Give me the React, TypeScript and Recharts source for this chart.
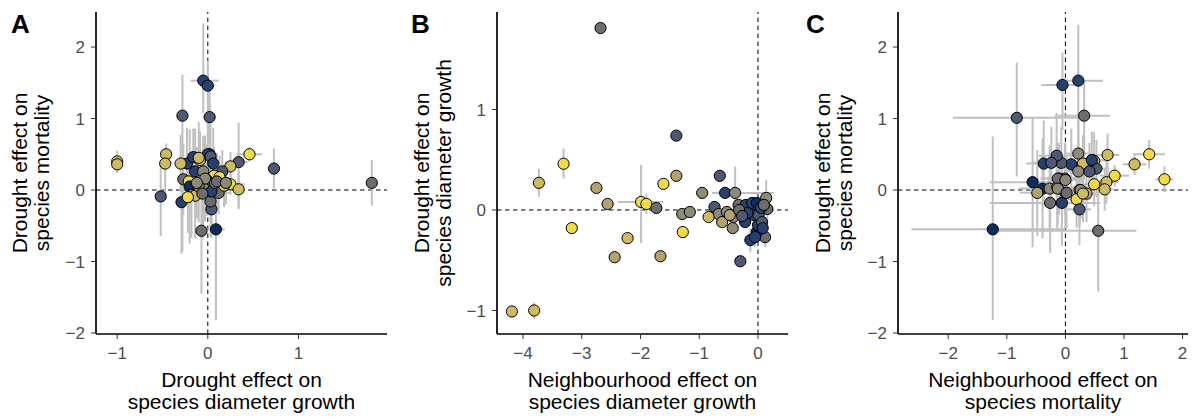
import React from 'react'
import { ScatterChart, Scatter, XAxis, YAxis, ErrorBar, ReferenceLine } from 'recharts'

type Err = number | [number, number]
type Row = [number, number, Err, Err, number]

// colour groups (cividis-like), dark navy -> yellow
const groupColours = ['#0f2c5c', '#283f6f', '#4e5873', '#6d6d6f', '#8e8a78', '#b0a36e', '#cdbb64', '#f0dc4a']

// each row: x, y, x error (+/- or [lo, hi]), y error, colour group
const droughtGrowthVsMortality: Row[] = [
  [-1.0, 0.4, 0.04, 0.15, 6],
  [-1.0, 0.36, 0.06, 0.12, 6],
  [-0.46, 0.5, 0.03, 0.15, 6],
  [-0.47, 0.37, 0.05, [0.5, 0.2], 6],
  [-0.52, -0.09, 0.03, [0.55, 0.5], 2],
  [-0.29, -0.17, 0.04, [0.72, 0.3], 1],
  [-0.28, 1.04, 0.05, [1.9, 0.57], 2],
  [-0.05, 1.53, [0.14, 0.17], [0.45, 0.8], 1],
  [0.0, 1.46, 0.08, [0.6, 0.35], 1],
  [0.02, 1.02, 0.06, [0.55, 0.45], 2],
  [0.73, 0.3, 0.04, 0.28, 2],
  [1.81, 0.1, 0.04, 0.32, 3],
  [0.46, 0.5, 0.14, 0.1, 7],
  [-0.07, -0.57, 0.05, [0.88, 0.55], 3],
  [0.09, -0.55, 0.1, [1.27, 0.4], 0],
  [0.34, 0.39, 0.1, [0.63, 0.55], 2],
  [0.25, 0.33, 0.05, 0.2, 6],
  [0.25, 0.08, 0.16, 0.15, 7],
  [0.34, 0.01, 0.06, [0.28, 0.25], 6],
  [0.16, 0.26, 0.08, 0.3, 2],
  [0.12, -0.04, 0.12, 0.3, 3],
  [0.04, -0.27, 0.06, 0.4, 2],
  [0.03, -0.16, 0.08, 0.5, 3],
  [0.02, 0.5, 0.05, 0.7, 3],
  [0.0, 0.5, 0.05, 0.5, 1],
  [0.03, 0.47, 0.05, 0.5, 2],
  [-0.085, 0.42, 0.05, 0.4, 6],
  [-0.23, 0.37, 0.05, 0.5, 1],
  [-0.3, 0.37, 0.05, 0.4, 6],
  [-0.16, 0.46, 0.05, 0.4, 1],
  [-0.1, 0.45, 0.05, 0.5, 6],
  [0.06, 0.37, 0.05, 0.5, 1],
  [-0.14, 0.26, 0.05, 0.6, 1],
  [-0.05, 0.26, 0.05, 0.5, 4],
  [0.07, 0.2, 0.05, 0.4, 7],
  [-0.01, 0.14, 0.05, 0.5, 2],
  [-0.27, 0.15, 0.05, 0.5, 3],
  [-0.21, 0.12, 0.05, 0.4, 7],
  [-0.2, 0.05, 0.05, 0.8, 0],
  [-0.18, -0.07, 0.05, 0.6, 4],
  [-0.05, 0.03, 0.05, 0.7, 4],
  [-0.03, 0.16, 0.05, 0.6, 4],
  [0.04, -0.02, 0.05, 0.5, 1],
  [0.08, 0.1, 0.05, 0.4, 4],
  [0.13, 0.18, 0.05, 0.3, 7],
  [0.18, 0.06, 0.12, 0.3, 6],
  [-0.14, -0.08, 0.05, 0.6, 6],
  [-0.22, -0.1, 0.05, 0.5, 7],
  [-0.1, 0.05, 0.05, 0.5, 4],
  [0.1, 0.12, 0.05, 0.4, 3],
  [0.2, 0.1, 0.05, 0.3, 4],
  [-0.06, -0.05, 0.05, 0.5, 3],
  [-0.12, 0.1, 0.05, 0.5, 4],
]

const neighbourVsDroughtGrowth: Row[] = [
  [-2.68, 1.81, 0.03, 0.03, 3],
  [-1.39, 0.74, 0.03, 0.04, 2],
  [-3.31, 0.46, 0.03, 0.15, 7],
  [-3.73, 0.27, 0.1, 0.14, 6],
  [-2.75, 0.22, 0.03, 0.03, 5],
  [-2.56, 0.06, 0.1, 0.03, 5],
  [-3.17, -0.18, 0.03, 0.03, 7],
  [-2.22, -0.28, 0.03, 0.03, 6],
  [-2.44, -0.47, 0.03, 0.03, 5],
  [-1.66, -0.46, 0.03, 0.03, 5],
  [-1.99, 0.08, [0.39, 0.38], [0.41, 0.37], 7],
  [-1.9, 0.06, 0.1, 0.1, 7],
  [-1.73, 0.02, 0.04, 0.04, 3],
  [-1.61, 0.26, 0.03, 0.03, 7],
  [-1.39, 0.34, 0.03, 0.03, 5],
  [-1.29, -0.04, 0.03, 0.03, 4],
  [-1.16, -0.02, 0.03, 0.03, 4],
  [-1.28, -0.22, 0.03, 0.03, 7],
  [-0.95, 0.17, 0.03, 0.03, 4],
  [-0.65, 0.34, 0.03, 0.03, 2],
  [-0.56, 0.17, 0.03, 0.03, 1],
  [-0.39, 0.17, [0.39, 0.66], [0.27, 0.26], 4],
  [-0.74, 0.03, 0.03, 0.03, 2],
  [-0.67, -0.04, 0.03, 0.03, 4],
  [-0.84, -0.07, 0.05, 0.05, 6],
  [-0.61, -0.12, 0.03, 0.03, 5],
  [-0.53, -0.02, 0.03, 0.03, 4],
  [-0.42, -0.07, 0.03, 0.03, 4],
  [-0.43, -0.18, 0.03, 0.03, 4],
  [-0.48, -0.05, 0.03, 0.03, 5],
  [-0.33, 0.05, 0.03, 0.03, 3],
  [-0.21, 0.05, 0.03, 0.05, 1],
  [-0.1, 0.07, 0.03, 0.05, 1],
  [-0.02, 0.07, 0.03, 0.05, 0],
  [0.14, 0.12, 0.05, [0.15, 0.18], 4],
  [0.16, 0.01, 0.05, 0.1, 3],
  [-0.13, -0.3, 0.03, 0.12, 1],
  [0.12, -0.27, 0.03, 0.1, 3],
  [-0.02, -0.22, 0.03, 0.08, 0],
  [0.0, -0.15, 0.03, 0.08, 1],
  [-0.3, -0.51, 0.03, 0.03, 2],
  [-0.22, -0.12, 0.03, 0.05, 1],
  [-0.07, -0.05, 0.03, 0.05, 1],
  [0.01, -0.05, 0.03, 0.05, 2],
  [0.07, -0.12, 0.03, 0.05, 2],
  [-0.18, -0.03, 0.03, 0.05, 1],
  [-0.32, 0.0, 0.03, 0.05, 3],
  [-0.27, -0.06, 0.03, 0.05, 2],
  [0.05, 0.02, 0.03, 0.05, 1],
  [0.08, -0.18, 0.03, 0.05, 1],
  [-0.05, -0.27, 0.03, 0.1, 1],
  [0.1, 0.05, 0.03, 0.05, 3],
  [-4.19, -1.01, 0.03, 0.03, 6],
  [-3.81, -1.0, 0.05, 0.08, 6],
]

const neighbourVsDroughtMortality: Row[] = [
  [-0.05, 1.47, [0.36, 0.32], [0.63, 0.45], 1],
  [0.22, 1.53, [0.3, 0.42], [1.34, 0.78], 1],
  [-0.83, 1.01, [1.09, 1.1], [0.82, 0.77], 2],
  [0.32, 1.04, [0.5, 0.44], [0.9, 0.5], 3],
  [-1.24, -0.55, [1.39, 1.23], [1.27, 1.3], 0],
  [0.56, -0.57, [1.74, 0.65], [0.85, 0.62], 3],
  [1.69, 0.15, 0.15, 0.18, 7],
  [1.43, 0.5, 0.27, 0.2, 7],
  [1.18, 0.36, 0.2, 0.15, 6],
  [0.84, 0.2, 0.25, 0.15, 7],
  [0.7, 0.11, 0.2, 0.3, 6],
  [0.49, 0.08, 0.2, 0.3, 7],
  [0.67, 0.01, 0.15, 0.3, 6],
  [0.72, 0.49, 0.2, 0.3, 6],
  [0.49, 0.41, 0.2, 0.4, 6],
  [0.3, 0.37, 0.2, 0.4, 6],
  [0.22, 0.51, 0.2, 0.5, 4],
  [0.53, 0.3, 0.2, 0.4, 2],
  [0.1, 0.36, 0.2, 0.5, 1],
  [-0.07, 0.38, 0.3, 0.5, 2],
  [-0.15, 0.48, 0.3, 0.6, 2],
  [-0.37, 0.37, 0.3, 0.6, 1],
  [-0.24, 0.38, 0.3, 0.5, 2],
  [-0.56, 0.11, [0.73, 0.5], [0.91, 0.91], 0],
  [-0.39, 0.02, 0.4, 0.7, 0],
  [-0.48, -0.04, 0.3, 0.6, 5],
  [-0.26, -0.18, [1.03, 0.85], 0.7, 3],
  [-0.06, -0.18, 0.3, 0.6, 1],
  [-0.27, 0.02, 0.3, 0.6, 4],
  [-0.14, 0.04, 0.3, 0.6, 4],
  [0.0, -0.04, 0.3, 0.5, 4],
  [-0.01, 0.16, 0.3, 0.5, 4],
  [-0.11, 0.16, 0.3, 0.5, 2],
  [0.24, 0.0, 0.2, 0.5, 6],
  [0.36, -0.05, 0.2, 0.4, 5],
  [0.19, -0.13, 0.2, 0.4, 7],
  [0.24, -0.27, 0.2, 0.5, 2],
  [0.22, 0.26, 0.2, 0.4, 4],
  [0.41, 0.26, 0.2, 0.4, 2],
  [-0.13, 0.16, 0.3, 0.5, 3],
  [0.0, 0.14, 0.3, 0.5, 4],
  [-0.13, 0.02, 0.3, 0.5, 4],
  [0.02, -0.04, 0.3, 0.5, 3],
  [0.26, 0.0, 0.2, 0.4, 4],
  [0.3, -0.05, 0.2, 0.4, 6],
  [0.45, 0.42, 0.2, 0.4, 1],
]

const ticksA_x = [-1, 0, 1]
const ticksB_x = [-4, -3, -2, -1, 0]
const ticksC_x = [-2, -1, 0, 1, 2]
const ticksMortality = [-2, -1, 0, 1, 2]
const ticksGrowth = [-1, 0, 1]

const FONT = '"Liberation Sans", Arial, Helvetica, sans-serif'

const toPoints = (rows: Row[]) => rows.map(([x, y, ex, ey, g]) => ({ x, y, ex, ey, g }))
const fmt = (v: number) => (v < 0 ? `\u2212${Math.abs(v)}` : `${v}`)

const Dot = (p: any) => (
  <circle cx={p.cx} cy={p.cy} r={5.6} fill={groupColours[p.payload.g]} stroke="#000" strokeWidth={1} />
)

type PanelProps = {
  rows: Row[]
  letter: string
  left: number
  plotLeft: number
  plotRight: number
  xDomain: [number, number]
  yDomain: [number, number]
  xTicks: number[]
  yTicks: number[]
  xTitle: string[]
  yTitle: string[]
  yTitleX: number
}

function Panel(p: PanelProps) {
  const data = toPoints(p.rows)
  const top = 12
  const bottom = 334
  const yAxisW = 40
  const cx = (p.plotLeft + p.plotRight) / 2
  const cy = (top + bottom) / 2
  return (
    <div style={{ position: 'absolute', left: p.left, top: 0, width: 400, height: 419 }}>
      <ScatterChart
        width={400}
        height={419}
        margin={{ top, right: 400 - p.plotRight, bottom: 0, left: p.plotLeft - yAxisW }}
      >
        <XAxis
          type="number"
          dataKey="x"
          domain={p.xDomain}
          ticks={p.xTicks}
          allowDataOverflow
          height={85}
          tickFormatter={fmt}
          tickSize={5}
          tickMargin={8}
          axisLine={{ stroke: '#000', strokeWidth: 1.7 }}
          tickLine={{ stroke: '#333' }}
          tick={{ fill: '#4d4d4d', fontSize: 17, fontFamily: FONT }}
        />
        <YAxis
          type="number"
          dataKey="y"
          domain={p.yDomain}
          ticks={p.yTicks}
          allowDataOverflow
          width={yAxisW}
          tickFormatter={fmt}
          tickSize={5}
          tickMargin={6}
          axisLine={{ stroke: '#000', strokeWidth: 1.7 }}
          tickLine={{ stroke: '#333' }}
          tick={{ fill: '#4d4d4d', fontSize: 17, fontFamily: FONT }}
        />
        <ReferenceLine x={0} stroke="#000" strokeDasharray="4.5 3.5" strokeWidth={1} />
        <ReferenceLine y={0} stroke="#000" strokeDasharray="4.5 3.5" strokeWidth={1} />
        <Scatter data={data} shape={() => <g />} isAnimationActive={false}>
          <ErrorBar dataKey="ex" direction="x" width={0} stroke="#c0c0c0" strokeWidth={2} isAnimationActive={false} />
          <ErrorBar dataKey="ey" direction="y" width={0} stroke="#c0c0c0" strokeWidth={2} isAnimationActive={false} />
        </Scatter>
        <Scatter data={data} shape={Dot} isAnimationActive={false} />
      </ScatterChart>
      <svg width={400} height={419} style={{ position: 'absolute', left: 0, top: 0, pointerEvents: 'none' }}>
        <text x={11} y={33} fontSize={26} fontWeight="bold" fontFamily={FONT} fill="#000">
          {p.letter}
        </text>
        {p.xTitle.map((t, i) => (
          <text key={t} x={cx} y={387 + i * 22} textAnchor="middle" fontSize={21} fontFamily={FONT} fill="#000">
            {t}
          </text>
        ))}
        {p.yTitle.map((t, i) => (
          <text
            key={t}
            transform={`translate(${p.yTitleX + i * 22},${cy}) rotate(-90)`}
            textAnchor="middle"
            fontSize={21}
            fontFamily={FONT}
            fill="#000"
          >
            {t}
          </text>
        ))}
      </svg>
    </div>
  )
}

export default function App() {
  return (
    <div style={{ position: 'absolute', left: 0, top: 0, width: 1195, height: 419, background: '#fff' }}>
      <Panel
        rows={droughtGrowthVsMortality}
        letter="A"
        left={0}
        plotLeft={96}
        plotRight={387}
        xDomain={[-1.234, 1.978]}
        yDomain={[-2.014, 2.49]}
        xTicks={ticksA_x}
        yTicks={ticksMortality}
        xTitle={['Drought effect on', 'species diameter growth']}
        yTitle={['Drought effect on', 'species mortality']}
        yTitleX={27}
      />
      <Panel
        rows={neighbourVsDroughtGrowth}
        letter="B"
        left={400}
        plotLeft={97}
        plotRight={388}
        xDomain={[-4.443, 0.511]}
        yDomain={[-1.234, 1.97]}
        xTicks={ticksB_x}
        yTicks={ticksGrowth}
        xTitle={['Neighbourhood effect on', 'species diameter growth']}
        yTitle={['Drought effect on', 'species diameter growth']}
        yTitleX={29}
      />
      <Panel
        rows={neighbourVsDroughtMortality}
        letter="C"
        left={795}
        plotLeft={103}
        plotRight={393}
        xDomain={[-2.857, 2.092]}
        yDomain={[-2.014, 2.49]}
        xTicks={ticksC_x}
        yTicks={ticksMortality}
        xTitle={['Neighbourhood effect on', 'species mortality']}
        yTitle={['Drought effect on', 'species mortality']}
        yTitleX={35}
      />
    </div>
  )
}
